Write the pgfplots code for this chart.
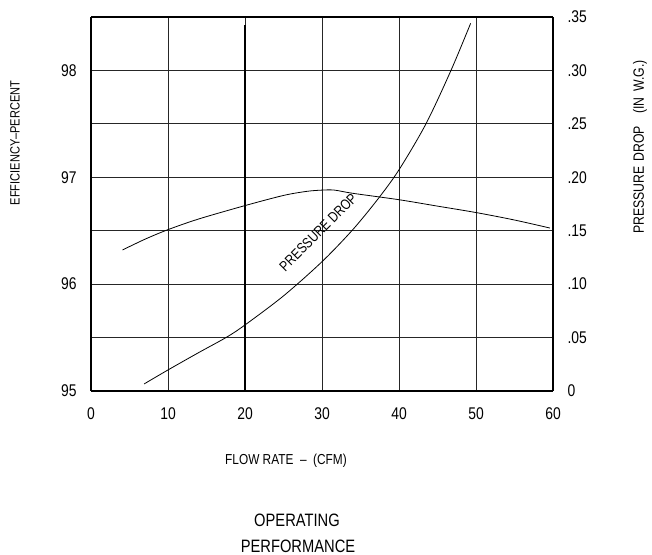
\documentclass[border=0pt]{standalone}
\usepackage{fontspec}
\setmainfont{Liberation Sans}[FakeStretch=0.82]
\usepackage{pgfplots}
\pgfplotsset{compat=1.18}
\begin{document}
\begin{tikzpicture}[x=1bp,y=1bp]
\path[use as bounding box] (0,0) rectangle (652,555);
\begin{axis}[
  at={(91bp,164bp)}, anchor=south west,
  scale only axis, width=462bp, height=374bp,
  xmin=0, xmax=60, ymin=95, ymax=98.5,
  xtick={0,10,20,30,40,50,60},
  xticklabels={\raisebox{-2bp}{0},10,20,30,40,50,60},
  ytick={95,95.5,96,96.5,97,97.5,98,98.5},
  yticklabels={95,,96,,97,,98,},
  major tick length=0,
  grid=major,
  grid style={black!85, line width=0.9bp},
  axis line style={black, line width=1.1bp},
  /pgf/number format/assume math mode=true,
  ticklabel style={font=\fontsize{17}{18}\selectfont},
  xticklabel style={yshift=-13bp},
  yticklabel style={xshift=-11bp},
  axis y line*=left,
  clip=false,
]
\addplot[black, line width=2.2bp] coordinates {(20,95) (20,98.425)};
\addplot[black, line width=0.8bp, smooth, tension=0.5] coordinates {
(4.1,96.32) (7,96.42) (10,96.51) (14,96.61) (20,96.735) (25,96.83) (28,96.868) (30,96.88) (31.6,96.88) (34,96.85) (40,96.79) (45,96.73) (50,96.67) (55,96.60) (59.6,96.525)};
\end{axis}
\begin{axis}[
  at={(91bp,164bp)}, anchor=south west,
  scale only axis, width=462bp, height=374bp,
  xmin=0, xmax=60, ymin=0, ymax=0.35,
  axis y line*=right, axis x line=none,
  ytick={0,0.05,0.1,0.15,0.2,0.25,0.3,0.35},
  yticklabels={0,.05,.10,.15,.20,.25,.30,.35},
  major tick length=0,
  axis line style={black, line width=1.1bp},
  /pgf/number format/assume math mode=true,
  ticklabel style={font=\fontsize{17}{18}\selectfont},
  yticklabel style={xshift=11bp},
  clip=false,
]
\addplot[black, line width=0.8bp, smooth, tension=0.5] coordinates {
(6.9,0.0066) (10,0.0197) (14,0.036) (17.6,0.0503) (20,0.0618) (25,0.089) (30,0.121) (34,0.151) (37.3,0.180) (40,0.207) (43.5,0.25) (46.75,0.30) (49.3,0.344)};
\node[rotate=45, font=\fontsize{14.5}{16}\selectfont, inner sep=0pt] at (axis cs:29.5,0.1485) {PRESSURE DROP};
\end{axis}
\node[rotate=90, font=\fontsize{13.5}{14}\selectfont] at (15,412) {EFFICIENCY--PERCENT};
\node[rotate=90, font=\fontsize{15}{16}\selectfont] at (640,408) {PRESSURE\hspace{5bp}DROP\hspace{12bp}(IN\hspace{6bp}W.G.)};
\node[font=\fontsize{14.5}{16}\selectfont] at (286,94) {FLOW RATE\ \ --\ \ (CFM)};
\node[font=\fontsize{18}{20}\selectfont] at (297,35) {OPERATING};
\node[font=\fontsize{18}{20}\selectfont] at (298,9) {PERFORMANCE};
\end{tikzpicture}
\end{document}
